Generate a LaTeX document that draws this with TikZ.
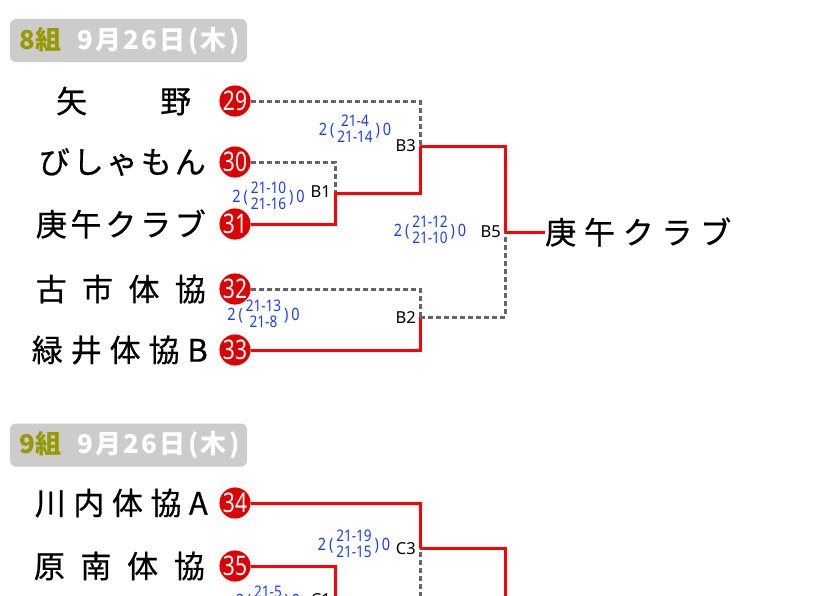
\documentclass[tikz,border=0pt]{standalone}
\usepackage{fontspec}
\setmainfont{Noto Sans CJK JP}
\newfontfamily\namefont[FakeBold=0.6]{Noto Sans CJK JP}
\newfontfamily\numfont[FakeStretch=0.78]{Noto Sans}
\newfontfamily\scfont[FakeStretch=0.85]{Noto Sans}
\newfontfamily\labfont{Noto Sans}
\definecolor{winred}{HTML}{FF0000}
\definecolor{seedred}{HTML}{DD0000}
\definecolor{losegray}{HTML}{666666}
\definecolor{hdrgray}{HTML}{CCCCCC}
\definecolor{olivetxt}{HTML}{999900}
\definecolor{scoreblue}{HTML}{1A3CFF}
\newcommand{\scoreTxt}[2]{2\,(\,{\fontsize{16}{13.5}\selectfont\begin{tabular}{@{}c@{}}#1\\#2\end{tabular}}\,)\,0}
\newcommand{\nm}{\namefont\fontsize{31}{31}\selectfont}
\tikzset{
  winline/.style={draw=winred, line width=3pt},
  loseline/.style={draw=losegray, line width=3pt, dash pattern=on 5pt off 3pt},
  seed/.style={circle, fill=seedred, text=white, inner sep=0pt, minimum size=28pt,
    font=\numfont\fontsize{27}{27}\selectfont},
  teamname/.style={anchor=east, inner sep=0pt, font=\nm},
  lab/.style={anchor=east, inner sep=0pt, font=\labfont\fontsize{16.5}{16.5}\selectfont},
  score/.style={inner sep=0pt, text=scoreblue, font=\scfont\fontsize{17}{17}\selectfont},
  hdrbox/.style={fill=hdrgray, rounded corners=6pt, minimum width=237pt, minimum height=43pt, inner sep=0pt},
  hdrtxt/.style={anchor=west, inner sep=0pt, font=\bfseries\fontsize{26}{26}\selectfont}
}
\begin{document}
\begin{tikzpicture}[x=1pt,y=-1pt]
\useasboundingbox (0,0) rectangle (840,595);
\clip (0,0) rectangle (840,595);
% headers
\node[hdrbox] (h8) at (128.5,40.5) {};
\node[hdrtxt] (h8t) at (19,41) {\textcolor{olivetxt}{8組}\hspace{16pt}\textcolor{white}{\addfontfeature{LetterSpace=9}9月26日(木)}};
\node[hdrbox] (h9) at (128.5,445) {};
\node[hdrtxt] (h9t) at (19,445.5) {\textcolor{olivetxt}{9組}\hspace{16pt}\textcolor{white}{\addfontfeature{LetterSpace=9}9月26日(木)}};
% team names group 8
\node[teamname, anchor=west] (n29) at (56,101) {\makebox[135pt][s]{矢\hfill 野}};
\node[teamname] (n30) at (206,162) {\makebox[167pt][s]{び\hfill し\hfill ゃ\hfill も\hfill ん}};
\node[teamname] (n31) at (206,224) {\makebox[170pt][s]{庚\hfill 午\hfill ク\hfill ラ\hfill ブ}};
\node[teamname] (n32) at (206,289) {\makebox[170pt][s]{古\hfill 市\hfill 体\hfill 協}};
\node[teamname] (n33) at (208,350) {\makebox[176pt][s]{緑\hfill 井\hfill 体\hfill 協\hfill B}};
% group 9
\node[teamname] (n34) at (208,503) {\makebox[173pt][s]{川\hfill 内\hfill 体\hfill 協\hfill A}};
\node[teamname] (n35) at (205,566) {\makebox[171pt][s]{原\hfill 南\hfill 体\hfill 協}};
% seeds
\node[seed] (s29) at (235,101) {29};
\node[seed] (s30) at (235,162) {30};
\node[seed] (s31) at (235,224) {31};
\node[seed] (s32) at (235,289) {32};
\node[seed] (s33) at (235,350) {33};
\node[seed] (s34) at (235,503) {34};
\node[seed] (s35) at (235,566) {35};
% junctions
\coordinate (B1) at (335,193);
\coordinate (B2) at (420,317);
\coordinate (B3) at (420,146);
\coordinate (B5) at (505,232);
\coordinate (C1) at (335,600);
\coordinate (C3) at (420,548);
\coordinate (C5) at (505,640);
\node[anchor=west, inner sep=0pt, font=\nm] (win) at (545,232) {\makebox[186pt][s]{庚\hfill 午\hfill ク\hfill ラ\hfill ブ}};
% lines
\draw[loseline] (s29.east) -| (B3);
\draw[loseline] (s30.east) -| (B1);
\draw[winline] (s31.east) -| (B1);
\draw[winline] (B1) -| (B3);
\draw[loseline] (s32.east) -| (B2);
\draw[winline] (s33.east) -| (B2);
\draw[winline] (B3) -| (B5);
\draw[loseline] (B2) -| (B5);
\draw[winline] (B5) -- (win.west);
\draw[winline] (s34.east) -| (C3);
\draw[winline] (C3) -| (C5);
\draw[winline] (s35.east) -| (C1);
\draw[loseline] (C1) -| (C3);
% labels
\node[lab] (lB1) at (331,192) {B1};
\node[lab] (lB3) at (416,146) {B3};
\node[lab] (lB5) at (501,232) {B5};
\node[lab] (lB2) at (416,318) {B2};
\node[lab] (lC3) at (416,549) {C3};
\node[lab] (lC1) at (331,600) {C1};
% scores
\node[score] (sc3) at (355,131) {\scoreTxt{21-4}{21-14}};
\node[score] (sc1) at (268.5,198) {\scoreTxt{21-10}{21-16}};
\node[score] (sc5) at (430,232) {\scoreTxt{21-12}{21-10}};
\node[score] (sc2) at (263.5,316) {\scoreTxt{21-13}{21-8}};
\node[score] (scc3) at (354,546) {\scoreTxt{21-19}{21-15}};
\node[score] (scc1) at (268,602) {\scoreTxt{21-5}{21-9}};
\end{tikzpicture}
\end{document}
